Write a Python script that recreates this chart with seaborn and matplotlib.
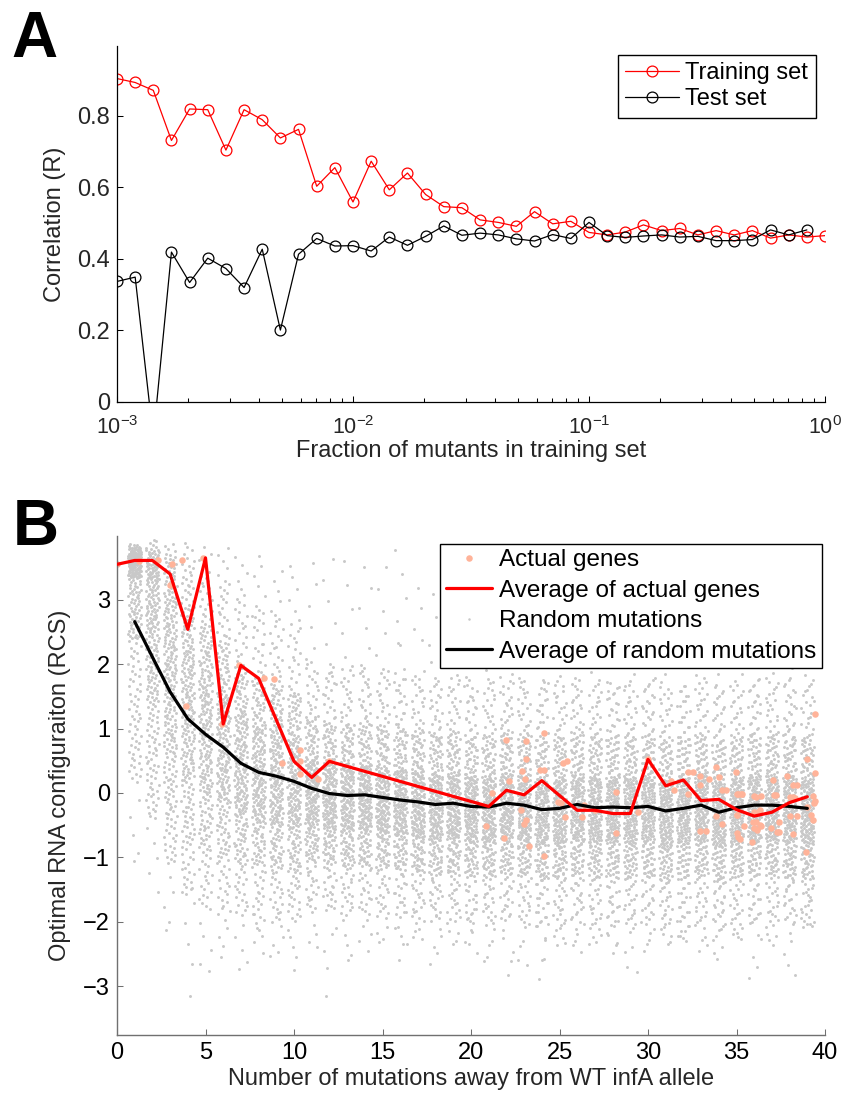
import numpy as np
import pandas as pd
import matplotlib
matplotlib.use("Agg")
import matplotlib.pyplot as plt
import seaborn as sns
from matplotlib.lines import Line2D
from matplotlib.ticker import LogLocator, NullFormatter, FixedLocator, FixedFormatter

# ---------------- Panel A data ----------------
frac_training = [0.001, 0.001194, 0.001425, 0.001701, 0.002031, 0.002424, 0.002894,
                 0.003455, 0.004125, 0.004924, 0.005878, 0.007017, 0.008377,
                 0.01, 0.01194, 0.01425, 0.01701, 0.02031, 0.02424, 0.02894,
                 0.03455, 0.04125, 0.04924, 0.05878, 0.07017, 0.08377,
                 0.1, 0.1194, 0.1425, 0.1701, 0.2031, 0.2424, 0.2894,
                 0.3455, 0.4125, 0.4924, 0.5878, 0.7017, 0.8377, 1.0]
r_training = [0.904, 0.893, 0.871, 0.731, 0.819, 0.817, 0.704, 0.817, 0.789, 0.738,
              0.762, 0.603, 0.655, 0.559, 0.673, 0.593, 0.640, 0.580, 0.546, 0.543,
              0.509, 0.502, 0.491, 0.532, 0.498, 0.505, 0.474, 0.467, 0.475, 0.495,
              0.479, 0.485, 0.467, 0.479, 0.467, 0.479, 0.458, 0.467, 0.461, 0.465]
frac_test = frac_training[:-1]
r_test = [0.337, 0.349, -0.10, 0.419, 0.334, 0.402, 0.373, 0.320, 0.427, 0.201,
          0.413, 0.457, 0.436, 0.437, 0.422, 0.461, 0.438, 0.463, 0.492, 0.466,
          0.472, 0.467, 0.456, 0.450, 0.468, 0.457, 0.502, 0.465, 0.460, 0.464,
          0.467, 0.461, 0.463, 0.451, 0.451, 0.454, 0.481, 0.467, 0.481]
yticks_A = [0, 0.2, 0.4, 0.6, 0.8]
ytick_labels_A = ["0", "0.2", "0.4", "0.6", "0.8"]

# ---------------- Panel B data ----------------
# average of actual genes
gene_avg_x = [0, 1, 2, 3, 4, 5, 6, 7, 8, 10, 11, 12, 21, 22, 23, 24, 25, 26, 27, 28,
              29, 30, 31, 32, 33, 34, 35, 36, 37, 38, 39]
gene_avg_y = [3.55, 3.61, 3.61, 3.40, 2.54, 3.65, 1.07, 1.98, 1.78, 0.49, 0.24, 0.49,
              -0.21, 0.04, -0.03, 0.19, -0.04, -0.27, -0.27, -0.32, -0.32, 0.52, 0.11,
              0.20, -0.12, -0.10, -0.26, -0.36, -0.30, -0.15, -0.06]
# average of random mutations
rand_avg_x = list(range(1, 40))
rand_avg_y = [2.66, 2.11, 1.57, 1.15, 0.91, 0.71, 0.46, 0.32, 0.26, 0.18, 0.07, -0.01,
              -0.04, -0.03, -0.07, -0.11, -0.14, -0.18, -0.16, -0.21, -0.22, -0.16, -0.19,
              -0.26, -0.24, -0.18, -0.23, -0.22, -0.23, -0.21, -0.28, -0.24, -0.19, -0.30,
              -0.23, -0.19, -0.19, -0.21, -0.24]
# individual actual genes
gene_x = [0.0, 1.26, 2.34, 3.13, 3.00, 3.69, 3.90, 4.84, 5.93, 6.90, 8.32, 8.87, 9.32,
          10.34, 10.34, 10.34, 11.34, 12.0,
          21.17, 20.85, 21.96, 22.15, 21.89, 22.81, 22.90, 23.05, 23.10, 23.10, 23.00,
          23.10, 23.30, 23.90, 24.10, 24.15, 24.15, 24.93, 25.20, 25.40, 25.30, 25.10,
          26.29, 26.40, 27.0, 28.17, 28.17, 29.45, 30.0, 31.28, 31.47, 32.28, 32.52,
          32.28, 32.94, 32.94, 33.43, 32.94, 33.28, 33.86, 34.03, 34.20, 34.40, 33.84,
          34.20, 34.97, 35.00, 35.10, 35.25, 35.30, 35.00, 35.05, 35.40, 35.00, 35.10,
          35.20, 35.88, 35.98, 36.10, 36.40, 36.00, 36.20, 36.35, 35.95, 36.10, 36.35,
          35.98, 36.15, 36.40, 37.12, 37.25, 37.05, 36.95, 37.30, 37.40, 37.40, 37.87,
          38.20, 38.40, 38.00, 38.20, 38.30, 38.05, 38.40, 38.20, 38.91, 38.96, 39.44,
          39.44, 39.30, 39.45, 39.40, 39.20, 39.35, 39.00]
gene_y = [3.55, 3.60, 3.61, 3.56, 3.23, 3.62, 1.35, 3.65, 1.07, 1.98, 1.78, 1.77, 0.47,
          0.67, 0.50, 0.29, 0.21, 0.49,
          0.00, -0.51, 0.82, 0.19, -0.70, -0.27, 0.34, 0.22, 0.53, 0.81, -0.49,
          -0.42, -0.83, 0.36, 0.36, 0.93, -0.98, -0.14, 0.46, 0.50, -0.38, -0.15,
          -0.37, -0.19, -0.27, 0.02, -0.63, -0.29, 0.52, 0.19, 0.04, 0.33, 0.33,
          -0.02, 0.27, 0.12, 0.21, -0.59, -0.59, 0.41, 0.25, 0.04, 0.04, -0.36,
          -0.49, 0.33, -0.02, -0.02, -0.02, -0.02, -0.35, -0.35, -0.52, -0.62, -0.68,
          -0.72, -0.76, -0.05, -0.07, -0.05, -0.29, -0.29, -0.27, -0.45, -0.45, -0.50,
          -0.55, -0.58, -0.52, -0.04, -0.04, 0.20, -0.55, -0.61, -0.61, -0.45, 0.26,
          0.12, 0.12, -0.07, -0.07, -0.08, -0.36, -0.36, -0.64, -0.92, 0.53, 1.23,
          0.31, -0.05, -0.12, -0.15, -0.35, -0.42, -0.22]
# random mutations: per-column spread
# quantile levels and, for each column (1..39), the read values at those levels
cloud_levels = [0.0, 0.02, 0.10, 0.25, 0.50, 0.75, 0.90, 0.98, 1.0]
cloud_cols = list(range(1, 40))
cloud_quantiles = [
    [-1.2, 0.2, 0.9, 2.4, 3.35, 3.6, 3.72, 3.82, 3.88],
    [-1.6, -0.4, 0.3, 1.4, 2.5, 3.3, 3.6, 3.8, 3.95],
    [-2.3, -1.1, -0.4, 0.6, 1.75, 2.7, 3.3, 3.7, 3.9],
    [-3.2, -1.6, -0.8, 0.2, 1.25, 2.2, 2.9, 3.6, 3.9],
    [-2.9, -1.8, -0.9, 0.0, 0.95, 1.85, 2.6, 3.4, 3.9],
    [-2.6, -1.9, -1.0, -0.15, 0.7, 1.55, 2.35, 3.3, 3.85],
    [-2.9, -1.9, -1.1, -0.35, 0.4, 1.25, 2.0, 3.1, 3.75],
    [-2.5, -2.0, -1.15, -0.45, 0.25, 1.05, 1.8, 2.9, 3.7],
    [-2.6, -2.0, -1.2, -0.5, 0.18, 0.95, 1.7, 2.8, 3.6],
    [-2.8, -2.0, -1.25, -0.55, 0.1, 0.85, 1.55, 2.7, 3.6],
    [-2.5, -1.8, -1.05, -0.5, 0.02, 0.54, 1.2, 2.1, 3.8],
    [-3.2, -1.85, -1.1, -0.56, -0.06, 0.46, 1.1, 2.0, 3.7],
    [-2.7, -1.9, -1.15, -0.6, -0.09, 0.43, 1.08, 2.0, 3.9],
    [-2.5, -1.9, -1.13, -0.58, -0.08, 0.44, 1.1, 2.0, 3.6],
    [-2.4, -1.92, -1.17, -0.62, -0.12, 0.4, 1.05, 1.95, 3.7],
    [-2.6, -1.95, -1.2, -0.66, -0.16, 0.36, 1.0, 1.9, 3.8],
    [-2.3, -1.98, -1.24, -0.69, -0.19, 0.33, 0.98, 1.85, 3.5],
    [-2.7, -2.0, -1.28, -0.73, -0.23, 0.29, 0.94, 1.8, 3.6],
    [-2.4, -2.0, -1.26, -0.71, -0.21, 0.31, 0.96, 1.85, 3.4],
    [-2.5, -2.05, -1.31, -0.76, -0.26, 0.26, 0.91, 1.8, 3.9],
    [-2.7, -2.05, -1.32, -0.77, -0.27, 0.25, 0.9, 1.8, 3.7],
    [-2.9, -2.0, -1.26, -0.71, -0.21, 0.31, 0.96, 1.85, 3.6],
    [-2.8, -2.05, -1.29, -0.74, -0.24, 0.28, 0.93, 1.8, 3.5],
    [-2.9, -2.1, -1.36, -0.81, -0.31, 0.21, 0.86, 1.75, 3.4],
    [-2.4, -2.1, -1.34, -0.79, -0.29, 0.23, 0.88, 1.75, 3.3],
    [-2.5, -2.05, -1.28, -0.73, -0.23, 0.29, 0.94, 1.8, 3.6],
    [-2.4, -2.1, -1.33, -0.78, -0.28, 0.24, 0.89, 1.75, 3.2],
    [-2.5, -2.1, -1.32, -0.77, -0.27, 0.25, 0.9, 1.75, 3.4],
    [-2.9, -2.1, -1.33, -0.78, -0.28, 0.24, 0.89, 1.75, 3.1],
    [-2.5, -2.05, -1.31, -0.76, -0.26, 0.26, 0.91, 1.8, 3.3],
    [-2.4, -2.1, -1.38, -0.83, -0.33, 0.19, 0.84, 1.7, 3.0],
    [-2.3, -2.1, -1.34, -0.79, -0.29, 0.23, 0.88, 1.7, 3.2],
    [-2.5, -2.05, -1.29, -0.74, -0.24, 0.28, 0.93, 1.8, 3.0],
    [-2.6, -2.15, -1.4, -0.85, -0.35, 0.17, 0.82, 1.7, 2.9],
    [-2.3, -2.1, -1.33, -0.78, -0.28, 0.24, 0.89, 1.75, 3.1],
    [-2.9, -2.05, -1.29, -0.74, -0.24, 0.28, 0.93, 1.8, 2.8],
    [-2.4, -2.05, -1.29, -0.74, -0.24, 0.28, 0.93, 1.8, 3.0],
    [-2.9, -2.05, -1.31, -0.76, -0.26, 0.26, 0.91, 1.8, 2.7],
    [-2.1, -2.0, -1.34, -0.79, -0.29, 0.23, 0.88, 1.75, 2.6],
]
cloud_points_per_col = 260


def radical_inverse(idx, base):
    """Van der Corput radical inverse: an even, deterministic spread over [0, 1)."""
    out = np.zeros(len(idx))
    f = np.ones(len(idx))
    k = np.array(idx, dtype=np.int64)
    while np.any(k > 0):
        f = f / base
        out += f * (k % base)
        k = k // base
    return out


# ---------------- Style ----------------
sns.set_style("ticks")
plt.rcParams.update({
    "font.family": ["Liberation Sans", "DejaVu Sans"],
    "mathtext.fontset": "custom",
    "mathtext.rm": "Liberation Sans",
    "mathtext.it": "Liberation Sans:italic",
    "mathtext.bf": "Liberation Sans:bold",
    "xtick.direction": "in",
    "ytick.direction": "in",
    "axes.edgecolor": "black",
    "text.color": "black",
})

fig = plt.figure(figsize=(8.44, 10.93), dpi=100)
W, H = 844.0, 1093.0
axA = fig.add_axes([117 / W, 1 - 402 / H, 708 / W, 356 / H])
axB = fig.add_axes([117 / W, 1 - 1035 / H, 708 / W, 499 / H])

FS = 17

# ---------------- Panel A ----------------
dfA_train = pd.DataFrame({"frac": frac_training, "R": r_training})
dfA_test = pd.DataFrame({"frac": frac_test, "R": r_test})
axA.set_xscale("log")
sns.lineplot(data=dfA_train, x="frac", y="R", ax=axA, color="red", lw=0.9,
             marker="o", markersize=7.8, markerfacecolor="none", markeredgecolor="red",
             markeredgewidth=0.9, estimator=None, sort=False, label="Training set")
sns.lineplot(data=dfA_test, x="frac", y="R", ax=axA, color="black", lw=0.9,
             marker="o", markersize=7.8, markerfacecolor="none", markeredgecolor="black",
             markeredgewidth=0.9, estimator=None, sort=False, label="Test set")
axA.set_xlim(1e-3, 1.0)
axA.set_ylim(0, 0.995)
axA.yaxis.set_major_locator(FixedLocator(yticks_A))
axA.yaxis.set_major_formatter(FixedFormatter(ytick_labels_A))
axA.xaxis.set_major_locator(LogLocator(base=10, numticks=10))
axA.xaxis.set_minor_locator(LogLocator(base=10, subs=np.arange(2, 10), numticks=20))
axA.xaxis.set_minor_formatter(NullFormatter())
axA.tick_params(axis="y", which="major", direction="in", length=4.5, width=0.75,
                labelsize=FS, pad=5, color="black")
axA.tick_params(axis="x", which="major", direction="in", length=4.5, width=0.75,
                labelsize=15.5, pad=10, color="black")
axA.tick_params(which="minor", direction="in", length=3, width=0.75, color="black")
for s in ["top", "right"]:
    axA.spines[s].set_visible(False)
for s in ["left", "bottom"]:
    axA.spines[s].set_linewidth(0.9)
    axA.spines[s].set_color("black")
axA.set_xlabel("Fraction of mutants in training set", fontsize=FS, labelpad=1)
axA.set_ylabel("Correlation (R)", fontsize=FS, labelpad=8)
legA = axA.legend(loc="upper right", bbox_to_anchor=(0.987, 0.975), borderaxespad=0,
                  fontsize=17, frameon=True, fancybox=False, edgecolor="black",
                  framealpha=1, handlelength=2.3, handletextpad=0.25, borderpad=0.32,
                  labelspacing=0.15)
legA.get_frame().set_linewidth(1.0)

# ---------------- Panel B ----------------
cx, cy = [], []
n = cloud_points_per_col
for j, (col, q) in enumerate(zip(cloud_cols, cloud_quantiles)):
    idx = np.arange(j * n + 1, (j + 1) * n + 1)
    u = radical_inverse(idx, 2)
    v = radical_inverse(idx, 3)
    cy.extend(np.interp(u, cloud_levels, q))
    cx.extend(col + 0.74 * (v - 0.5))
dfB_cloud = pd.DataFrame({"x": cx, "y": cy})
dfB_genes = pd.DataFrame({"x": gene_x, "y": gene_y})
dfB_gavg = pd.DataFrame({"x": gene_avg_x, "y": gene_avg_y})
dfB_ravg = pd.DataFrame({"x": rand_avg_x, "y": rand_avg_y})

gray = "#C8C8C8"
salmon = "#FFB399"
sns.scatterplot(data=dfB_cloud, x="x", y="y", ax=axB, color=gray, s=4.5, linewidth=0,
                legend=False, zorder=1)
sns.scatterplot(data=dfB_genes, x="x", y="y", ax=axB, color=salmon, s=22, linewidth=0,
                legend=False, zorder=2)
sns.lineplot(data=dfB_ravg, x="x", y="y", ax=axB, color="black", lw=2.3,
             estimator=None, sort=False, zorder=3)
sns.lineplot(data=dfB_gavg, x="x", y="y", ax=axB, color="red", lw=2.3,
             estimator=None, sort=False, zorder=4)
axB.set_xlim(0, 40)
axB.set_ylim(-3.76, 3.99)
axB.set_xticks(range(0, 41, 5))
axB.set_yticks(range(-3, 4))
spine_gray = "#707070"
axB.tick_params(which="major", direction="in", length=4.5, width=0.75, labelsize=FS, pad=5,
                color=spine_gray, labelcolor="black")
for s in ["top", "right"]:
    axB.spines[s].set_visible(False)
for s in ["left", "bottom"]:
    axB.spines[s].set_linewidth(1.0)
    axB.spines[s].set_color(spine_gray)
axB.set_xlabel("Number of mutations away from WT infA allele", fontsize=FS, labelpad=3)
axB.set_ylabel("Optimal RNA configuraiton (RCS)", fontsize=FS, labelpad=9)

handles = [
    Line2D([], [], ls="none", marker="o", ms=4.7, mfc=salmon, mec="none"),
    Line2D([], [], color="red", lw=2.3),
    Line2D([], [], ls="none", marker="o", ms=1.8, mfc=gray, mec="none"),
    Line2D([], [], color="black", lw=2.3),
]
labels = ["Actual genes", "Average of actual genes", "Random mutations",
          "Average of random mutations"]
legB = axB.legend(handles, labels, loc="upper right", bbox_to_anchor=(0.9953, 0.984),
                  borderaxespad=0, fontsize=17.5, frameon=True, fancybox=False,
                  edgecolor="black", framealpha=1, handlelength=1.9, handletextpad=0.3,
                  borderpad=0.22, labelspacing=0.35)
legB.get_frame().set_linewidth(1.0)
legB.set_zorder(10)

# ---------------- Panel letters ----------------
fig.text(11 / W, 1 - 57 / H, "A", fontsize=46, fontweight="bold", ha="left", va="baseline")
fig.text(13 / W, 1 - 545 / H, "B", fontsize=46, fontweight="bold", ha="left", va="baseline")

fig.savefig("out.png", dpi=100)
